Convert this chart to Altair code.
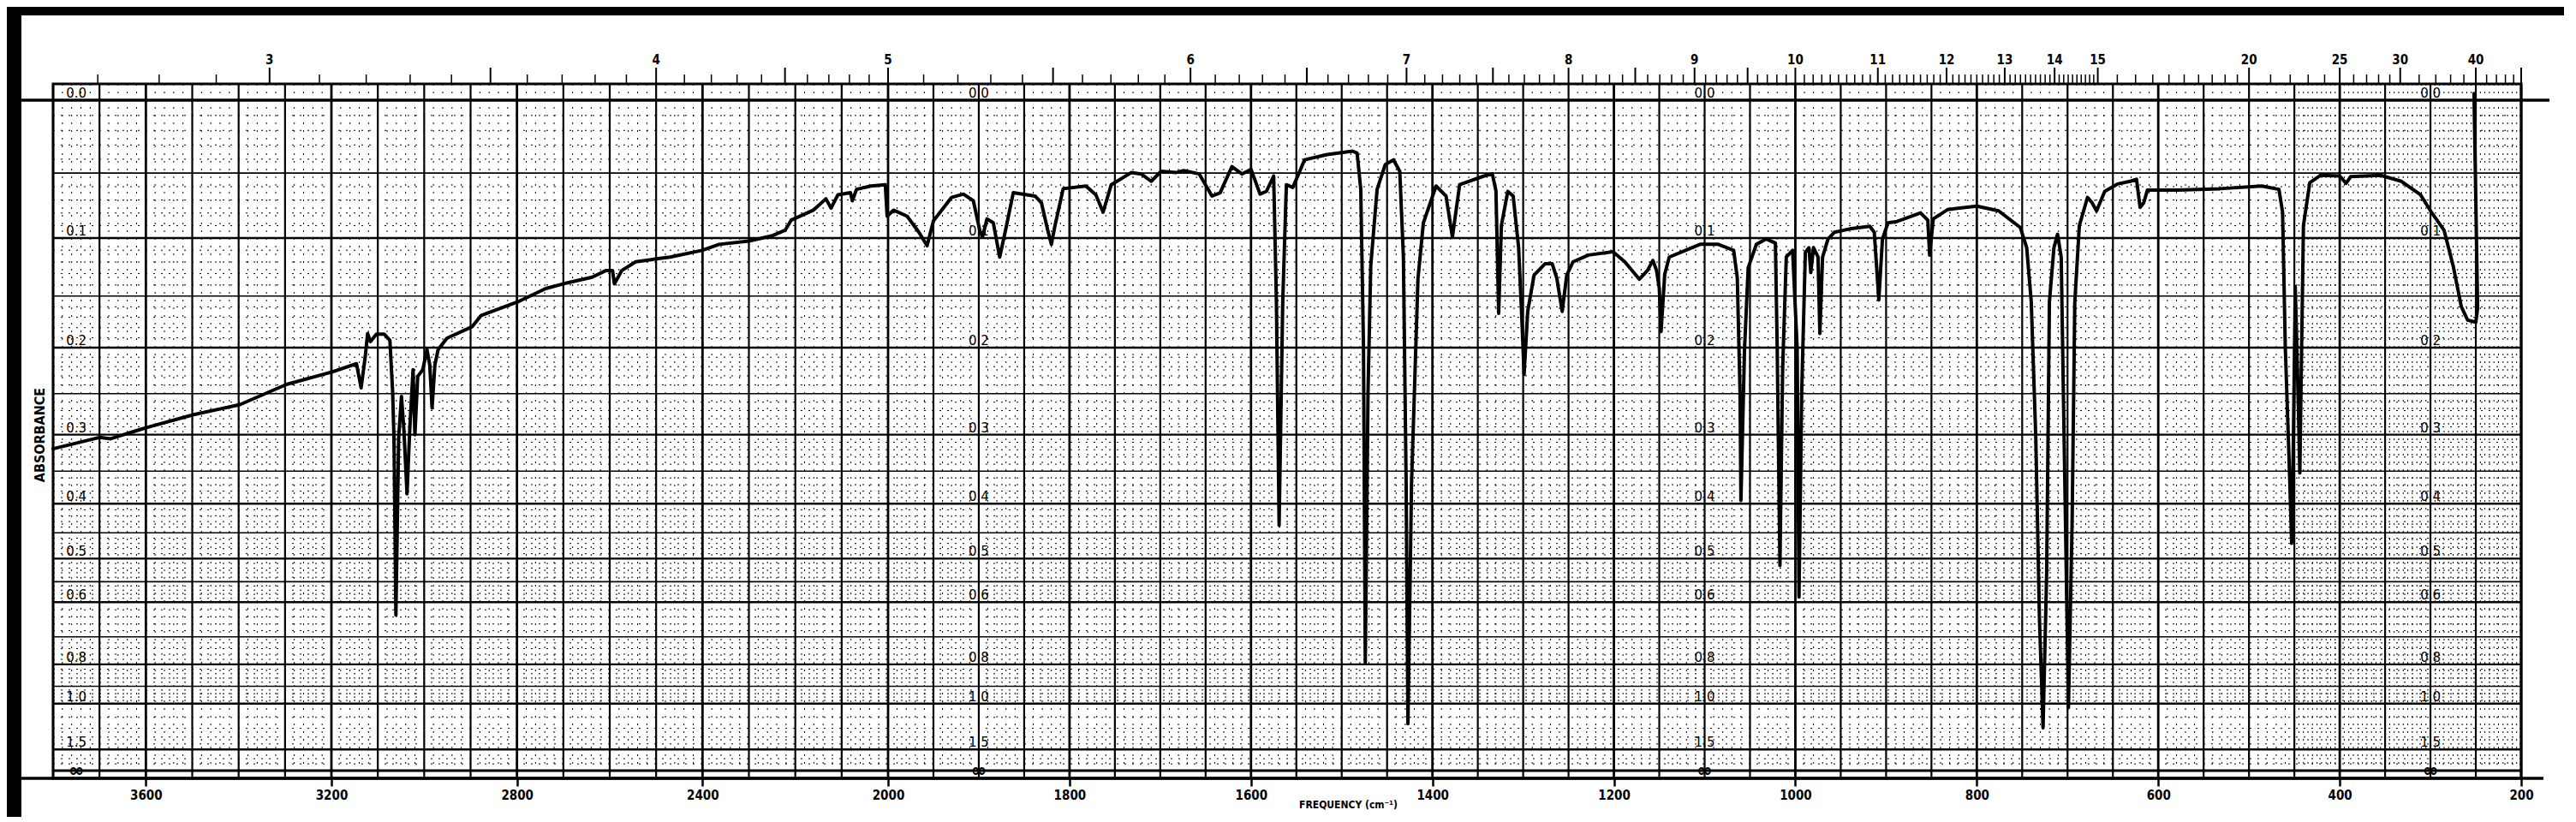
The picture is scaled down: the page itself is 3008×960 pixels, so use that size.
import altair as alt
import pandas as pd

# ---------------- spectrum ----------------
# wavenumber (cm-1) and transmittance (%) ; the chart paper is linear in transmittance,
# labelled in absorbance
wn_high = [3800, 3700, 3676, 3616, 3597, 3497, 3397, 3297, 3197, 3146, 3136, 3127, 3122, 3116,
           3103, 3086, 3074, 3068, 3065, 3061, 3055, 3049, 3044, 3037, 3031, 3024, 3020, 3014,
           3003, 2994, 2988, 2983, 2977, 2970, 2951, 2897, 2877, 2799, 2738, 2701, 2638, 2608,
           2594, 2590, 2574, 2544, 2503, 2470, 2401, 2364, 2300, 2249, 2222, 2209, 2161, 2134,
           2123, 2108, 2081, 2077, 2068, 2037, 2006]
t_high = [48.0, 49.7, 49.5, 50.8, 51.2, 53.1, 54.6, 57.6, 59.5, 60.7, 57.1, 61.8, 65.2, 64.0,
          65.1, 65.1, 64.2, 56.5, 49.1, 23.2, 49.7, 55.8, 51.1, 41.3, 51.1, 59.8, 50.1, 58.8,
          59.8, 62.8, 60.5, 54.1, 60.5, 62.8, 64.5, 66.2, 67.9, 69.9, 71.9, 72.6, 73.6, 74.6,
          74.6, 72.6, 74.6, 75.9, 76.3, 76.6, 77.6, 78.5, 79.0, 79.8, 80.6, 82.1, 83.6, 85.3,
          83.9, 85.9, 86.2, 85.0, 86.7, 87.2, 87.4]

wn_mid = [2002, 1994, 1979, 1966, 1957, 1950, 1930, 1917, 1906, 1899, 1896, 1891, 1884, 1877,
          1871, 1862, 1838, 1831, 1824, 1820, 1816, 1807, 1782, 1771, 1763, 1754, 1732, 1721,
          1710, 1699, 1683, 1674, 1657, 1643, 1634, 1621, 1610, 1600, 1590, 1583, 1575, 1572,
          1569, 1565, 1561, 1554, 1550, 1541, 1516, 1488, 1483, 1479, 1476, 1474, 1471, 1468,
          1461, 1452, 1443, 1436, 1432, 1429, 1427, 1423, 1416, 1410, 1396, 1385, 1378, 1370,
          1343, 1334, 1330, 1327, 1324, 1317, 1311, 1305, 1301, 1299, 1295, 1288, 1276, 1268,
          1263, 1257, 1252, 1245, 1228, 1201, 1188, 1172, 1163, 1157, 1153, 1150, 1148, 1144,
          1139, 1121, 1105, 1085, 1068, 1064, 1061, 1060, 1056, 1052, 1043, 1032, 1022, 1020,
          1017, 1014, 1010, 1003, 998, 996, 993, 989, 985, 983, 980, 975, 973, 970, 964, 957,
          940, 918, 913, 908, 904, 898, 888]
t_mid = [82.7, 83.6, 82.7, 80.3, 78.3, 82.0, 85.5, 86.0, 85.0, 80.6, 79.6, 82.3, 81.7, 76.6,
         80.3, 86.2, 85.7, 84.7, 80.6, 78.5, 81.3, 86.8, 87.2, 85.9, 83.3, 87.4, 89.2, 89.0,
         87.9, 89.4, 89.2, 89.5, 89.0, 85.7, 86.2, 90.1, 89.0, 89.7, 86.0, 86.4, 88.7, 70.0,
         36.6, 70.0, 87.4, 87.0, 88.2, 91.1, 91.9, 92.4, 92.1, 86.7, 63.2, 16.1, 56.5, 75.3,
         86.7, 90.4, 91.1, 89.4, 76.6, 43.0, 7.0, 43.0, 73.3, 81.7, 87.2, 85.7, 79.6, 87.4,
         88.7, 89.0, 86.5, 68.2, 81.3, 86.4, 85.7, 78.0, 65.9, 59.1, 68.5, 73.9, 75.6, 75.6,
         73.5, 68.5, 73.9, 75.9, 76.9, 77.4, 75.9, 73.3, 74.6, 76.1, 74.6, 72.0, 65.5, 74.0,
         76.6, 77.6, 78.5, 78.5, 77.6, 73.5, 56.5, 40.3, 63.0, 75.0, 78.5, 79.3, 78.7, 63.0,
         30.6, 60.0, 76.6, 77.6, 63.0, 25.9, 56.5, 77.3, 78.0, 74.3, 78.0, 76.6, 65.2, 76.6, 79.3, 80.3,
         80.8, 81.2, 80.3, 70.2, 79.3, 81.7, 81.9]

wn_low = [862, 854, 852, 848, 832, 800, 776, 752, 745, 740, 735, 731, 727, 723, 720, 715, 711,
          707, 703, 699, 695, 692, 687, 678, 673, 668, 659, 645, 631, 624, 620, 616, 612, 579,
          532, 486, 467, 463, 460, 455, 453, 451, 449, 446, 444, 442, 440, 433, 421, 400, 393,
          388, 355, 332, 311, 299, 285, 275, 266, 259, 250, 248, 252]
t_low = [83.2, 82.1, 76.9, 82.3, 83.7, 84.2, 83.5, 81.0, 78.0, 69.9, 49.7, 22.8, 6.4, 29.6,
         69.9, 78.0, 80.0, 76.6, 43.0, 9.4, 36.8, 69.9, 81.3, 85.5, 84.7, 83.5, 86.4, 87.5,
         87.9, 88.2, 84.0, 84.7, 86.6, 86.6, 86.8, 87.2, 86.7, 83.3, 63.2, 43.0, 33.9, 50.0,
         72.2, 56.5, 44.4, 63.2, 81.3, 87.7, 88.8, 88.7, 87.6, 88.6, 88.8, 87.9, 85.9, 83.3,
         80.6, 75.3, 69.2, 67.2, 66.9, 69.0, 101.0]

wavenumber = wn_high + wn_mid + wn_low
transmittance = t_high + t_mid + t_low
assert len(wavenumber) == len(transmittance)

# ---------------- scale texts ----------------
freq_ticks = [3600, 3200, 2800, 2400, 2000, 1800, 1600, 1400, 1200, 1000, 800, 600, 400, 200]
abs_values = [0.0, 0.1, 0.2, 0.3, 0.4, 0.5, 0.6, 0.8, 1.0, 1.5]
abs_texts = ["0.0", "0.1", "0.2", "0.3", "0.4", "0.5", "0.6", "0.8", "1.0", "1.5"]
abs_label_columns = [3750, 1900, 1100, 300]
micron_labels = [3, 4, 5, 6, 7, 8, 9, 10, 11, 12, 13, 14, 15, 20, 25, 30, 40]
micron_long = [3, 3.5, 4, 4.5, 5, 5.5, 6, 6.5, 7, 7.5, 8, 8.5, 9, 9.5, 10, 11, 12, 13, 14, 15,
               20, 25, 30, 40, 50]

COND = "DejaVu Sans Condensed, Liberation Sans Narrow, Arial Narrow, sans-serif"
PLAIN = "DejaVu Sans, Liberation Sans, sans-serif"

W, H = 2882, 811
xs = alt.Scale(domain=[3800, 2000, 200], range=[0, 975, W], nice=False, zero=False)
ys = alt.Scale(domain=[-1.15, 102.43], nice=False, zero=False)

x_axis = alt.Axis(values=freq_ticks, format="d", title="FREQUENCY (cm⁻¹)", domain=False,
                  grid=False, tickSize=9, tickWidth=2.5, tickColor="black",
                  labelFont=COND, labelFontSize=15, labelFontWeight="bold", labelColor="black",
                  labelPadding=3, labelFlush=False, labelOverlap=False,
                  titleFont=COND, titleFontSize=12, titleFontWeight="bold", titleColor="black",
                  titleX=1512, titleY=30, titleBaseline="middle")
X = alt.X("wn:Q", scale=xs, axis=x_axis)
Y = alt.Y("T:Q", scale=ys, axis=None)


def tr(a):
    return 100 * 10 ** (-a)


# ---------------- grid ----------------
v_major = sorted(set(list(range(3800, 1999, -100)) + list(range(2000, 199, -50))))
v_minor = sorted(set(list(range(3800, 2000, -20)) + list(range(2000, 200, -10))
                     + list(range(450, 200, -5))) - set(v_major))
h_major = [0.1, 0.2, 0.3, 0.4, 0.5, 0.6, 0.8, 1.0, 1.5]
h_mid = [0.05, 0.15, 0.25, 0.35, 0.45, 0.55, 0.7, 0.9]
h_minor = [round(0.01 * k, 2) for k in range(1, 60)]
h_minor += [round(0.6 + 0.02 * k, 2) for k in range(1, 20)]
h_minor += [1.1, 1.2, 1.3, 1.4, 1.75, 2.0]
h_minor = [a for a in h_minor if a not in h_major and a not in h_mid]

df_vmaj = pd.DataFrame({"wn": [v for v in v_major if v not in freq_ticks]})
df_vlab = pd.DataFrame({"wn": freq_ticks})
df_vmin = pd.DataFrame({"wn": v_minor})
df_hmaj = pd.DataFrame({"T": [tr(a) for a in h_major]})
df_hmid = pd.DataFrame({"T": [tr(a) for a in h_mid]})
df_hmin = pd.DataFrame({"T": [tr(a) for a in h_minor]})

g_vmin = alt.Chart(df_vmin).mark_rule(color="black", strokeWidth=1, strokeDash=[2, 7]).encode(x=X)
g_hmin = alt.Chart(df_hmin).mark_rule(color="black", strokeWidth=1, strokeDash=[2, 7]).encode(y=Y)
g_hmid = alt.Chart(df_hmid).mark_rule(color="black", strokeWidth=1.6).encode(y=Y)
g_hmaj = alt.Chart(df_hmaj).mark_rule(color="black", strokeWidth=2.4).encode(y=Y)
g_vmaj = alt.Chart(df_vmaj).mark_rule(color="black", strokeWidth=2.2).encode(x=X)
g_vlab = alt.Chart(df_vlab).mark_rule(color="black", strokeWidth=2.8).encode(x=X)

one = pd.DataFrame({"T": [100.0]})
g_top = alt.Chart(one).mark_rule(color="black", strokeWidth=3.5).encode(
    y=Y, x=alt.value(-37), x2=alt.value(W + 33))
zero = pd.DataFrame({"T": [0.0]})
g_inf = alt.Chart(zero).mark_rule(color="black", strokeWidth=3).encode(y=Y)
g_bottom = alt.Chart(zero).mark_rule(color="black", strokeWidth=3.5).encode(
    y=alt.value(H), x=alt.value(-37), x2=alt.value(W + 26))

# scan borders
g_band_left = alt.Chart(zero).mark_rect(color="black").encode(
    x=alt.value(-60), x2=alt.value(-37), y=alt.value(-100), y2=alt.value(H + 60))
g_band_top = alt.Chart(zero).mark_rect(color="black").encode(
    x=alt.value(-60), x2=alt.value(W + 60), y=alt.value(-100), y2=alt.value(-80))

# ---------------- absorbance labels inside the grid ----------------
rows = []
for c in abs_label_columns:
    for a, s in zip(abs_values, abs_texts):
        rows.append({"wn": c, "T": tr(a), "lab": s})
df_abs = pd.DataFrame(rows)
df_infl = pd.DataFrame({"wn": abs_label_columns, "T": [0.0] * 4, "lab": ["∞"] * 4})
g_abs = alt.Chart(df_abs).mark_text(font=PLAIN, fontSize=15, color="black", baseline="alphabetic",
                                    dy=-3).encode(x=X, y=Y, text="lab:N")
g_infl = alt.Chart(df_infl).mark_text(font=PLAIN, fontSize=22, fontWeight="bold", color="black",
                                      baseline="middle").encode(x=X, y=Y, text="lab:N")
g_ytitle = alt.Chart(zero).mark_text(text="ABSORBANCE", font=COND, fontSize=16, fontWeight="bold",
                                     angle=270, color="black").encode(
    x=alt.value(-15), y=alt.value(410))

# ---------------- wavelength (micron) scale on top ----------------
short_um = [round(2.7 + 0.1 * k, 1) for k in range(0, 124)]
short_um += [15.5, 16, 16.5, 17, 17.5, 18, 18.5, 19, 19.5, 21, 22, 23, 24, 26, 27, 28, 29,
             32, 34, 36, 38, 42, 44, 46, 48]
short_um = [u for u in short_um if u not in micron_long]
df_ts = pd.DataFrame({"wn": [10000 / u for u in short_um]})
df_tl = pd.DataFrame({"wn": [10000 / u for u in micron_long]})
df_tlab = pd.DataFrame({"wn": [10000 / u for u in micron_labels],
                        "lab": [str(u) for u in micron_labels]})
g_ts = alt.Chart(df_ts).mark_rule(color="black", strokeWidth=1.5).encode(
    x=X, y=alt.value(0), y2=alt.value(-11))
g_tl = alt.Chart(df_tl).mark_rule(color="black", strokeWidth=2).encode(
    x=X, y=alt.value(0), y2=alt.value(-19))
g_tlab = alt.Chart(df_tlab).mark_text(font=COND, fontSize=15, fontWeight="bold", color="black",
                                      baseline="middle").encode(x=X, y=alt.value(-28), text="lab:N")

# ---------------- spectrum ----------------
spec = pd.DataFrame({"wn": wavenumber, "T": transmittance, "i": list(range(len(wavenumber)))})
g_spec = alt.Chart(spec).mark_line(color="black", strokeWidth=4, strokeJoin="round",
                                   strokeCap="round").encode(x=X, y=Y, order="i:Q")

chart = alt.layer(
    g_vmin, g_hmin, g_hmid, g_hmaj, g_vmaj, g_vlab, g_inf, g_top, g_bottom,
    g_band_left, g_band_top, g_abs, g_infl, g_ytitle, g_ts, g_tl, g_tlab, g_spec
).properties(
    width=W, height=H,
    padding={"left": 54, "top": 90, "right": 50, "bottom": 45},
    autosize=alt.AutoSizeParams(type="none"),
    background="white",
).configure_view(stroke="black", strokeWidth=3)

chart.save("out.html", embed_options={"renderer": "svg", "actions": False})
